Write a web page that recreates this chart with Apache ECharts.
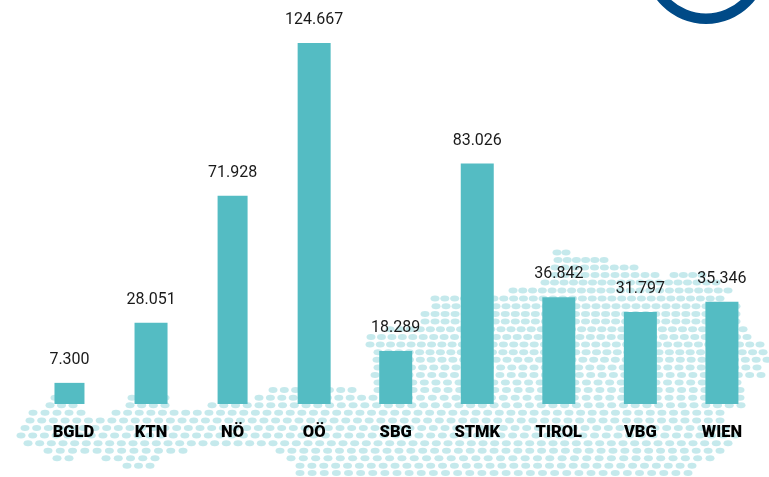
<!DOCTYPE html>
<html><head><meta charset="utf-8">
<style>html,body{margin:0;padding:0;background:#fff}#c{width:769px;height:477px}</style>
<script src="https://cdn.jsdelivr.net/npm/echarts@6/dist/echarts.min.js"></script>
</head><body><div id="c"></div>
<script>
const categories = ['BGLD','KTN','NÖ','OÖ','SBG','STMK','TIROL','VBG','WIEN'];
const values = [7.300,28.051,71.928,124.667,18.289,83.026,36.842,31.797,35.346];
const narrowBars = ['BGLD','NÖ'];
// Austria dot-map backdrop: each row is [y, step, [from,to], [from,to]...] in map units
const mapRows = [
 [252.4,9.5,[557,566]],
 [260,9.3,[558,604]],
 [267.5,9.5,[555,634]],
 [275,9.6,[555,655],[674,702]],
 [282.6,9.7,[545,716]],
 [290.5,9.9,[513,728]],
 [298.6,10,[435,720]],
 [306.3,10,[436,736]],
 [314,10,[425,736]],
 [321.6,10.1,[425,736]],
 [329.2,10.2,[390,743]],
 [337,10.4,[371,747]],
 [344.6,10.4,[370,760]],
 [352.2,10.5,[378,763]],
 [359.8,10.9,[377,767]],
 [367.4,11.1,[378,757]],
 [375,11.5,[375,761]],
 [382.5,11.6,[378,737]],
 [390,11.7,[273,352],[378,740]],
 [397.7,11.7,[55,78],[132,165],[259,373],[385,740]],
 [405.3,11.7,[50,73],[130,165],[212,741]],
 [412.8,11.7,[33,81],[116,720]],
 [420.4,11.7,[30,720]],
 [428,11.7,[25,725]],
 [435.6,11.7,[21,735]],
 [443.2,11.7,[28,728]],
 [450.7,12,[48,183],[280,720]],
 [458.2,12.2,[57,69],[106,155],[291,710]],
 [465.7,12,[127,150],[300,692]],
 [473,12,[300,688]]
];
const dots = [];
mapRows.forEach(function (r) {
  r.slice(2).forEach(function (seg) {
    const n = Math.round((seg[1] - seg[0]) / r[1]);
    for (let i = 0; i <= n; i++) dots.push([seg[0] + (n ? (seg[1] - seg[0]) * i / n : 0), r[0]]);
  });
});
const fmt = function (p) { return p.value == null ? '' : p.value.toFixed(3); };
const labelStyle = { show:true, position:'top', distance:15, formatter:fmt, color:'#1a1a1a', fontFamily:'Roboto', fontSize:16, fontWeight:400 };
const chart = echarts.init(document.getElementById('c'), null, { renderer:'canvas' });
chart.setOption({
  animation:false,
  backgroundColor:'#fff',
  grid:[
    { left:28.7, width:734, top:43, bottom:73 },
    { left:0, right:0, top:0, bottom:0 }
  ],
  xAxis:[
    { type:'category', gridIndex:0, z:5,
      data:categories.map(function (c) { return c === 'BGLD' ? { value:c, textStyle:{ padding:[0,0,0,8] } } : c; }),
      axisLine:{show:false}, axisTick:{show:false},
      axisLabel:{ interval:0, margin:20, color:'#000', fontFamily:'Roboto', fontWeight:900, fontSize:16.5 } },
    { type:'category', gridIndex:0, data:categories, show:false },
    { type:'value', gridIndex:1, min:0, max:769, show:false }
  ],
  yAxis:[
    { type:'value', gridIndex:0, min:0, max:124.667, show:false },
    { type:'value', gridIndex:1, min:0, max:477, inverse:true, show:false }
  ],
  series:[
    { type:'scatter', xAxisIndex:2, yAxisIndex:1, z:1, silent:true, data:dots,
      symbol:'circle', symbolSize:[9,6], itemStyle:{ color:'#b6e4e7' } },
    { type:'bar', xAxisIndex:0, yAxisIndex:0, z:4, barWidth:33,
      data:categories.map(function (c, i) { return narrowBars.includes(c) ? null : values[i]; }),
      itemStyle:{ color:'#54bcc3' }, label:labelStyle },
    { type:'bar', xAxisIndex:1, yAxisIndex:0, z:4, barWidth:30,
      data:categories.map(function (c, i) { return narrowBars.includes(c) ? values[i] : null; }),
      itemStyle:{ color:'#54bcc3' }, label:labelStyle }
  ],
  graphic:[{ type:'ring', silent:true, z:10, shape:{ cx:706, cy:-38, r:62, r0:51.5 }, style:{ fill:'#004a87' } }]
});
</script></body></html>
